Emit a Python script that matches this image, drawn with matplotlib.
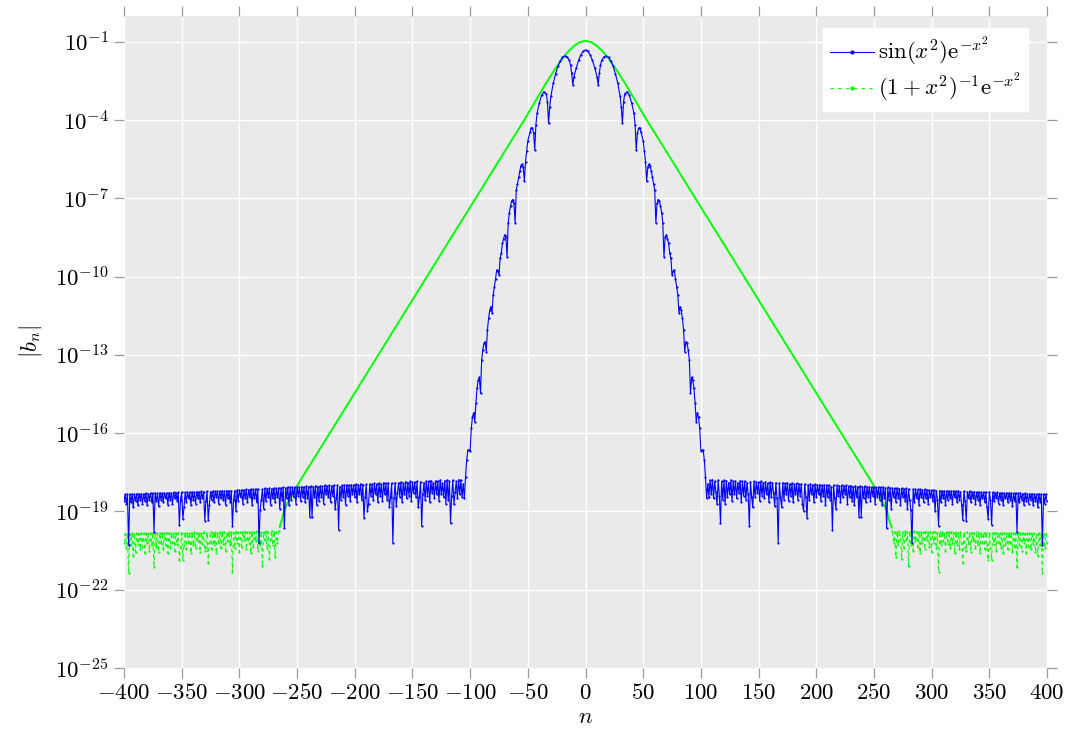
import numpy as np
import matplotlib
matplotlib.use("Agg")
import matplotlib.pyplot as plt
from matplotlib.lines import Line2D

plt.rcParams['mathtext.fontset'] = 'cm'
plt.rcParams['font.family'] = 'serif'
plt.rcParams['font.serif'] = ['cmr10', 'DejaVu Serif']
plt.rcParams['axes.unicode_minus'] = False

# ---------------- data (log10 |b_n|; symmetric in n) ----------------
# blue series, central part n = 0..105
blue_center_n = [0, 2, 4, 6, 8, 10, 11, 12, 13, 14, 16, 18, 20, 22, 24, 26, 28, 30, 31, 32,
                 33, 34, 36, 38, 40, 42, 43, 44, 45, 46, 47, 48, 50, 51, 52, 53, 54, 55, 56, 57,
                 58, 59, 60, 61, 62, 63, 64, 65, 66, 67, 68, 69, 70, 71, 72, 73, 74, 75, 76, 77,
                 78, 79, 80, 81, 82, 83, 84, 85, 86, 87, 88, 89, 90, 91, 92, 93, 94, 95, 96, 97,
                 98, 99, 100, 101, 102, 103, 104, 105]
blue_center_log = [-1.32, -1.37, -1.5, -1.72, -2.0, -2.35, -2.66, -2.2, -1.9, -1.72, -1.58, -1.55, -1.6, -1.75, -1.95, -2.25, -2.6, -3.1, -3.5, -4.13,
                   -3.3, -3.0, -2.92, -3.05, -3.35, -3.75, -4.2, -5.15, -4.5, -4.32, -4.3, -4.45, -4.8, -5.2, -5.6, -6.34, -5.8, -5.69, -5.75, -5.95,
                   -6.2, -6.45, -6.69, -7.94, -7.2, -7.05, -7.1, -7.3, -7.55, -7.96, -9.24, -8.5, -8.4, -8.55, -8.73, -9.11, -9.3, -9.94, -9.8, -9.75,
                   -10.1, -10.4, -10.7, -11.39, -11.15, -11.3, -11.6, -12.05, -12.88, -12.5, -12.56, -12.8, -13.2, -14.47, -13.86, -13.97, -14.28, -14.86, -15.56, -15.22,
                   -15.39, -15.82, -16.67, -16.66, -16.65, -17.03, -17.69, -18.5]
# blue series, round-off floor, n = 106..400
blue_floor_start = 106
blue_floor_log = [
    -17.95, -18.45, -17.8, -18.35, -17.78, -18.5, -17.85, -18.25, -18.73, -17.8,
    -18.4, -19.45, -17.85, -18.55, -17.8, -18.7, -17.82, -18.45, -17.9, -18.35,
    -17.8, -18.6, -17.85, -18.35, -17.83, -18.5, -17.9, -18.3, -17.82, -18.65,
    -17.85, -18.4, -17.84, -18.55, -17.9, -18.35, -19.55, -17.86, -18.45, -18.85,
    -17.85, -18.45, -17.87, -18.3, -17.88, -18.6, -17.85, -18.4, -17.9, -18.5,
    -17.86, -18.35, -17.92, -18.65, -17.88, -18.45, -17.9, -18.3, -18.8, -17.9,
    -18.5, -20.2, -17.92, -18.45, -18.85, -17.9, -18.55, -17.93, -18.35, -17.9,
    -18.6, -17.95, -18.4, -17.92, -18.65, -17.95, -18.35, -17.93, -18.55, -17.96,
    -18.4, -17.95, -18.7, -18.98, -17.96, -18.45, -19.26, -17.97, -18.55, -17.95,
    -18.35, -17.98, -18.65, -17.96, -18.45, -17.98, -18.35, -17.97, -18.6, -18.0,
    -18.4, -17.98, -18.75, -17.99, -18.45, -18.0, -18.55, -18.05, -19.7, -18.0,
    -18.5, -18.91, -18.0, -18.4, -18.02, -18.65, -18.0, -18.45, -18.03, -18.35,
    -18.0, -18.7, -18.03, -18.45, -18.02, -18.6, -18.05, -18.75, -18.02, -18.45,
    -18.05, -19.2, -18.03, -19.2, -18.05, -18.5, -18.04, -18.65, -18.06, -18.45,
    -18.05, -18.6, -18.07, -18.4, -18.06, -18.7, -18.08, -18.45, -18.07, -18.55,
    -18.08, -18.75, -18.07, -18.5, -18.1, -19.65, -18.08, -18.55, -18.1, -18.9,
    -18.1, -18.45, -18.12, -18.65, -18.1, -18.5, -18.13, -18.75, -18.12, -18.45,
    -18.14, -18.6, -18.12, -18.9, -18.15, -18.55, -18.95, -20.2, -18.15, -18.65,
    -18.14, -18.5, -18.16, -18.75, -18.15, -18.45, -18.17, -18.65, -18.16, -18.5,
    -18.18, -18.7, -18.17, -18.45, -18.19, -18.6, -18.18, -19.0, -18.2, -18.55,
    -19.56, -18.2, -18.65, -18.21, -18.5, -18.2, -18.75, -18.22, -18.55, -18.21,
    -18.5, -18.22, -18.7, -18.21, -18.45, -18.23, -18.65, -18.22, -18.55, -18.24,
    -18.75, -19.33, -18.23, -18.6, -19.35, -18.24, -18.5, -18.23, -18.65, -18.25,
    -18.5, -18.24, -18.7, -18.26, -18.55, -18.25, -18.75, -18.27, -18.5, -18.26,
    -18.65, -18.27, -18.85, -19.3, -18.26, -18.55, -19.52, -18.27, -18.6, -18.28,
    -18.5, -18.27, -18.7, -18.29, -18.55, -18.28, -18.75, -18.3, -18.5, -18.29,
    -18.65, -18.3, -18.55, -18.29, -18.8, -18.31, -18.6, -18.3, -19.78, -18.31,
    -18.65, -18.3, -18.55, -18.32, -18.75, -18.31, -18.6, -18.33, -18.7, -18.32,
    -18.55, -18.33, -18.75, -18.32, -18.6, -18.34, -18.85, -18.33, -18.65, -18.35,
    -20.29, -18.34, -18.7, -18.35, -18.6]

# green series, smooth decay part n = 0..265
green_decay_n = [0, 5, 10, 15, 20, 27, 35, 53, 75, 95, 125, 150, 175, 200, 225, 247, 255, 259, 261, 262, 263, 264, 265]
green_decay_log = [-0.97, -1.02, -1.17, -1.38, -1.65, -2.09, -2.65, -4.0, -5.56, -6.99, -9.12, -10.9, -12.68, -14.46, -16.24,
                   -17.8, -18.4, -18.75, -18.95, -19.1, -19.3, -19.45, -19.55]
# green series, floor n = 266..400
green_floor_start = 266
green_floor_log = [
    -19.75, -20.2, -19.8, -20.74, -19.78, -20.3, -19.76, -20.05, -20.83, -19.8,
    -20.4, -19.77, -20.1, -19.79, -21.1, -19.78, -20.3, -19.8, -20.5, -19.77,
    -20.15, -19.8, -20.35, -19.78, -20.6, -19.79, -20.2, -19.8, -20.45, -19.78,
    -20.1, -19.8, -20.35, -19.79, -20.55, -19.8, -20.2, -19.78, -20.4, -19.81,
    -21.31, -19.8, -20.3, -19.79, -20.15, -19.81, -20.5, -19.8, -20.25, -19.79,
    -20.4, -19.8, -20.2, -19.81, -20.6, -19.8, -20.3, -19.82, -20.45, -19.8,
    -20.2, -20.98, -19.81, -20.35, -20.5, -19.8, -20.25, -19.82, -20.55, -19.81,
    -20.15, -19.82, -20.4, -19.8, -20.3, -19.83, -20.6, -19.81, -20.2, -19.82,
    -20.45, -19.81, -20.3, -20.86, -19.82, -20.4, -20.86, -19.83, -20.25, -19.82,
    -20.5, -19.83, -20.2, -19.82, -20.4, -19.84, -20.6, -19.82, -20.3, -19.83,
    -20.45, -19.82, -20.2, -19.84, -20.55, -19.83, -20.35, -19.84, -21.13, -19.83,
    -20.3, -19.84, -20.5, -19.83, -20.2, -19.85, -20.6, -19.84, -20.35, -19.83,
    -20.45, -19.85, -20.25, -19.84, -20.55, -19.85, -20.7, -19.84, -20.3, -19.86,
    -21.36, -19.85, -20.4, -19.86, -20.2]

x_ticks = [-400, -350, -300, -250, -200, -150, -100, -50, 0, 50, 100, 150, 200, 250, 300, 350, 400]
y_tick_exps = [-1, -4, -7, -10, -13, -16, -19, -22, -25]
label_blue = r'$\sin(x^2)\mathrm{e}^{-x^2}$'
label_green = r'$(1+x^2)^{-1}\mathrm{e}^{-x^2}$'


def mirror(n_right, v_right):
    n_right = np.asarray(n_right, float)
    v_right = np.asarray(v_right, float)
    if n_right[0] == 0:
        n = np.concatenate([-n_right[:0:-1], n_right])
        v = np.concatenate([v_right[:0:-1], v_right])
    else:
        n = np.concatenate([-n_right[::-1], n_right])
        v = np.concatenate([v_right[::-1], v_right])
    return n, v


blue_right_n = list(blue_center_n) + list(range(blue_floor_start, blue_floor_start + len(blue_floor_log)))
blue_right_v = list(blue_center_log) + list(blue_floor_log)
bn, bv = mirror(blue_right_n, blue_right_v)

gdn, gdv = mirror(green_decay_n, green_decay_log)
gf_n = np.arange(green_floor_start, green_floor_start + len(green_floor_log))
gf_v = np.asarray(green_floor_log)

# ---------------- figure ----------------
fig = plt.figure(figsize=(10.67, 7.36), dpi=100)
ax = fig.add_axes([124 / 1067, 1 - 668 / 736, (1047 - 124) / 1067, (668 - 15.5) / 736])
ax.set_facecolor('#EAEAEA')
for s in ax.spines.values():
    s.set_visible(False)
ax.set_axisbelow(True)
ax.grid(True, color='white', linewidth=1.0)

blue = '#0000FF'
green = '#00FF00'

ax.plot(bn, 10.0 ** bv, color=blue, lw=0.8, marker='o', ms=1.6, mew=0, zorder=3)

# green decay (dense markers make it look solid in the original)
ax.plot(gdn, 10.0 ** gdv, color=green, lw=1.4, solid_capstyle='round', zorder=2)
# green floors (dashed, with markers)
left_n = np.concatenate([-gf_n[::-1], [-green_decay_n[-1]]])
left_v = np.concatenate([gf_v[::-1], [green_decay_log[-1]]])
right_n = np.concatenate([[green_decay_n[-1]], gf_n])
right_v = np.concatenate([[green_decay_log[-1]], gf_v])
for nn, vv in [(left_n, left_v), (right_n, right_v)]:
    ax.plot(nn, 10.0 ** vv, color=green, lw=0.8, ls=(0, (3, 3)), marker='o', ms=1.6, mew=0, zorder=2)

ax.set_yscale('log')
ax.set_xlim(-400, 400)
ax.set_ylim(1e-25, 1e0)
ax.set_xticks(x_ticks)
ax.set_xticklabels([r'$%d$' % t if t >= 0 else r'$-%d$' % (-t) for t in x_ticks])
ax.set_yticks([10.0 ** e for e in y_tick_exps])
ax.set_yticklabels([r'$10^{%d}$' % e for e in y_tick_exps])
ax.yaxis.set_minor_locator(matplotlib.ticker.NullLocator())
ax.tick_params(axis='both', which='major', direction='out', length=7, width=0.9,
               color='#9a9a9a', labelsize=16.5, top=True, right=True, pad=4)

ax.set_xlabel(r'$n$', fontsize=16.5, labelpad=3)
ax.set_ylabel(r'$|b_n|$', fontsize=16.5, labelpad=8)

handles = [Line2D([], [], color=blue, lw=0.8, marker='o', ms=2, markevery=[1]),
           Line2D([], [], color=green, lw=0.8, ls=(0, (3, 4)), marker='o', ms=2, markevery=[1])]
for h in handles:
    h.set_xdata([0, 1, 2]); h.set_ydata([0, 0, 0])
leg = ax.legend(handles, [label_blue, label_green], loc='upper right',
                bbox_to_anchor=(1028 / 1067, 1 - 28 / 736), bbox_transform=fig.transFigure,
                fontsize=16.5, frameon=True, fancybox=False, framealpha=1, edgecolor='white',
                facecolor='white', handlelength=1.9, handletextpad=0.2, borderpad=0.3,
                labelspacing=0.1, borderaxespad=0)

fig.savefig('out.png', dpi=100)
